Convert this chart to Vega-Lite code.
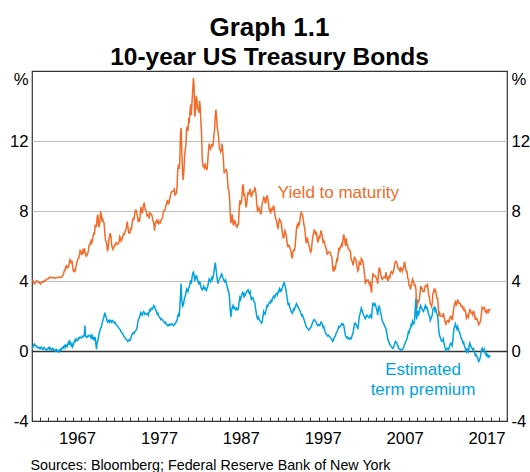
{
"$schema": "https://vega.github.io/schema/vega-lite/v6.json",
"width": 475, "height": 350,
"autosize": {"type": "none"},
"padding": {"left": 32, "top": 71, "right": 23, "bottom": 51},
"background": "white",
"title": {"text": "Graph 1.1", "subtitle": "10-year US Treasury Bonds", "anchor": "middle", "frame": "group", "font": "Liberation Sans", "fontSize": 26, "fontWeight": "bold", "color": "#000", "subtitleFont": "Liberation Sans", "subtitleFontSize": 24.5, "subtitleFontWeight": "bold", "subtitleColor": "#000", "subtitlePadding": 5, "offset": 1.5},
"config": {"view": {"stroke": "#333", "strokeWidth": 1.2}, "axis": {"labelFont": "Liberation Sans", "labelFontSize": 16.7, "labelColor": "#000", "titleFont": "Liberation Sans"}, "text": {"font": "Liberation Sans"}},
"datasets": {"r": [
{"t":1962.04,"y":4.08,"p":0.10},{"t":1962.13,"y":4.04,"p":0.25},{"t":1962.21,"y":3.93,"p":0.35},{"t":1962.29,"y":3.84,"p":0.40},{"t":1962.38,"y":3.87,"p":0.30},{"t":1962.46,"y":3.91,"p":0.32},{"t":1962.54,"y":4.01,"p":0.28},{"t":1962.63,"y":3.98,"p":0.20},{"t":1962.71,"y":3.98,"p":0.22},{"t":1962.79,"y":3.93,"p":0.18},{"t":1962.88,"y":3.92,"p":0.15},{"t":1962.96,"y":3.86,"p":0.20},
{"t":1963.04,"y":3.83,"p":0.15},{"t":1963.13,"y":3.92,"p":0.22},{"t":1963.21,"y":3.93,"p":0.18},{"t":1963.29,"y":3.97,"p":0.10},{"t":1963.38,"y":3.93,"p":0.12},{"t":1963.46,"y":3.99,"p":0.20},{"t":1963.54,"y":4.02,"p":0.15},{"t":1963.63,"y":4.00,"p":0.08},{"t":1963.71,"y":4.08,"p":0.10},{"t":1963.79,"y":4.11,"p":0.05},{"t":1963.88,"y":4.12,"p":0.12},{"t":1963.96,"y":4.13,"p":0.15},
{"t":1964.04,"y":4.17,"p":0.20},{"t":1964.13,"y":4.15,"p":0.10},{"t":1964.21,"y":4.22,"p":0.18},{"t":1964.29,"y":4.23,"p":0.12},{"t":1964.38,"y":4.20,"p":0.05},{"t":1964.46,"y":4.17,"p":0.10},{"t":1964.54,"y":4.19,"p":0.15},{"t":1964.63,"y":4.19,"p":0.08},{"t":1964.71,"y":4.20,"p":0.02},{"t":1964.79,"y":4.19,"p":0.05},{"t":1964.88,"y":4.15,"p":0.00},{"t":1964.96,"y":4.18,"p":0.10},
{"t":1965.04,"y":4.19,"p":0.05},{"t":1965.13,"y":4.21,"p":-0.02},{"t":1965.21,"y":4.21,"p":0.02},{"t":1965.29,"y":4.20,"p":-0.05},{"t":1965.38,"y":4.21,"p":0.05},{"t":1965.46,"y":4.21,"p":0.10},{"t":1965.54,"y":4.20,"p":0.05},{"t":1965.63,"y":4.25,"p":0.12},{"t":1965.71,"y":4.29,"p":0.20},{"t":1965.79,"y":4.35,"p":0.15},{"t":1965.88,"y":4.45,"p":0.25},{"t":1965.96,"y":4.62,"p":0.30},
{"t":1966.04,"y":4.61,"p":0.20},{"t":1966.13,"y":4.83,"p":0.35},{"t":1966.21,"y":4.87,"p":0.30},{"t":1966.29,"y":4.75,"p":0.25},{"t":1966.38,"y":4.78,"p":0.40},{"t":1966.46,"y":4.81,"p":0.50},{"t":1966.54,"y":5.02,"p":0.35},{"t":1966.63,"y":5.22,"p":0.55},{"t":1966.71,"y":5.18,"p":0.45},{"t":1966.79,"y":5.01,"p":0.30},{"t":1966.88,"y":5.16,"p":0.40},{"t":1966.96,"y":4.84,"p":0.25},
{"t":1967.04,"y":4.58,"p":0.35},{"t":1967.13,"y":4.63,"p":0.50},{"t":1967.21,"y":4.54,"p":0.60},{"t":1967.29,"y":4.59,"p":0.55},{"t":1967.38,"y":4.85,"p":0.70},{"t":1967.46,"y":5.02,"p":0.65},{"t":1967.54,"y":5.16,"p":0.60},{"t":1967.63,"y":5.28,"p":0.65},{"t":1967.71,"y":5.30,"p":0.75},{"t":1967.79,"y":5.48,"p":0.72},{"t":1967.88,"y":5.75,"p":0.80},{"t":1967.96,"y":5.70,"p":0.78},
{"t":1968.04,"y":5.53,"p":0.75},{"t":1968.13,"y":5.56,"p":0.80},{"t":1968.21,"y":5.74,"p":0.85},{"t":1968.29,"y":5.64,"p":0.82},{"t":1968.38,"y":5.87,"p":0.90},{"t":1968.46,"y":5.72,"p":1.45},{"t":1968.54,"y":5.50,"p":0.85},{"t":1968.63,"y":5.42,"p":0.78},{"t":1968.71,"y":5.46,"p":0.82},{"t":1968.79,"y":5.58,"p":0.80},{"t":1968.88,"y":5.70,"p":0.90},{"t":1968.96,"y":6.03,"p":0.88},
{"t":1969.04,"y":6.04,"p":0.85},{"t":1969.13,"y":6.19,"p":0.80},{"t":1969.21,"y":6.30,"p":0.90},{"t":1969.29,"y":6.17,"p":0.75},{"t":1969.38,"y":6.32,"p":0.85},{"t":1969.46,"y":6.57,"p":0.70},{"t":1969.54,"y":6.72,"p":0.75},{"t":1969.63,"y":6.69,"p":0.60},{"t":1969.71,"y":7.16,"p":0.80},{"t":1969.79,"y":7.10,"p":0.45},{"t":1969.88,"y":7.14,"p":0.10},{"t":1969.96,"y":7.65,"p":0.50},
{"t":1970.04,"y":7.79,"p":0.60},{"t":1970.13,"y":7.24,"p":0.80},{"t":1970.21,"y":7.07,"p":1.00},{"t":1970.29,"y":7.39,"p":1.15},{"t":1970.38,"y":7.91,"p":1.30},{"t":1970.46,"y":7.84,"p":1.35},{"t":1970.54,"y":7.46,"p":1.55},{"t":1970.63,"y":7.53,"p":1.70},{"t":1970.71,"y":7.39,"p":1.85},{"t":1970.79,"y":7.33,"p":1.95},{"t":1970.88,"y":6.84,"p":2.20},{"t":1970.96,"y":6.39,"p":2.05},
{"t":1971.04,"y":6.24,"p":1.95},{"t":1971.13,"y":6.11,"p":1.80},{"t":1971.21,"y":5.70,"p":1.65},{"t":1971.29,"y":5.83,"p":1.70},{"t":1971.38,"y":6.39,"p":1.75},{"t":1971.46,"y":6.52,"p":1.65},{"t":1971.54,"y":6.73,"p":1.75},{"t":1971.63,"y":6.58,"p":1.70},{"t":1971.71,"y":6.14,"p":1.65},{"t":1971.79,"y":5.93,"p":1.75},{"t":1971.88,"y":5.81,"p":1.70},{"t":1971.96,"y":5.93,"p":1.65},
{"t":1972.04,"y":5.95,"p":1.60},{"t":1972.13,"y":6.08,"p":1.65},{"t":1972.21,"y":6.07,"p":1.55},{"t":1972.29,"y":6.19,"p":1.50},{"t":1972.38,"y":6.13,"p":1.45},{"t":1972.46,"y":6.11,"p":1.40},{"t":1972.54,"y":6.11,"p":1.35},{"t":1972.63,"y":6.21,"p":1.30},{"t":1972.71,"y":6.55,"p":1.25},{"t":1972.79,"y":6.48,"p":1.20},{"t":1972.88,"y":6.28,"p":1.10},{"t":1972.96,"y":6.36,"p":1.05},
{"t":1973.04,"y":6.46,"p":1.00},{"t":1973.13,"y":6.64,"p":0.95},{"t":1973.21,"y":6.71,"p":0.85},{"t":1973.29,"y":6.67,"p":0.80},{"t":1973.38,"y":6.85,"p":0.75},{"t":1973.46,"y":6.90,"p":0.70},{"t":1973.54,"y":7.13,"p":0.65},{"t":1973.63,"y":7.40,"p":0.60},{"t":1973.71,"y":7.09,"p":0.55},{"t":1973.79,"y":6.79,"p":0.60},{"t":1973.88,"y":6.73,"p":0.65},{"t":1973.96,"y":6.74,"p":0.60},
{"t":1974.04,"y":6.99,"p":0.70},{"t":1974.13,"y":6.96,"p":0.85},{"t":1974.21,"y":7.21,"p":0.95},{"t":1974.29,"y":7.51,"p":1.00},{"t":1974.38,"y":7.58,"p":1.05},{"t":1974.46,"y":7.54,"p":1.00},{"t":1974.54,"y":7.81,"p":1.10},{"t":1974.63,"y":8.04,"p":1.15},{"t":1974.71,"y":8.04,"p":1.20},{"t":1974.79,"y":7.90,"p":1.25},{"t":1974.88,"y":7.68,"p":1.50},{"t":1974.96,"y":7.43,"p":1.75},
{"t":1975.04,"y":7.50,"p":1.85},{"t":1975.13,"y":7.39,"p":1.90},{"t":1975.21,"y":7.73,"p":2.10},{"t":1975.29,"y":8.23,"p":2.20},{"t":1975.38,"y":8.06,"p":2.10},{"t":1975.46,"y":7.86,"p":2.05},{"t":1975.54,"y":8.06,"p":2.15},{"t":1975.63,"y":8.40,"p":2.25},{"t":1975.71,"y":8.43,"p":2.20},{"t":1975.79,"y":8.14,"p":2.10},{"t":1975.88,"y":8.05,"p":2.15},{"t":1975.96,"y":8.00,"p":2.10},
{"t":1976.04,"y":7.74,"p":2.10},{"t":1976.13,"y":7.79,"p":2.15},{"t":1976.21,"y":7.73,"p":2.05},{"t":1976.29,"y":7.56,"p":2.20},{"t":1976.38,"y":7.90,"p":2.35},{"t":1976.46,"y":7.86,"p":2.30},{"t":1976.54,"y":7.83,"p":2.40},{"t":1976.63,"y":7.77,"p":2.45},{"t":1976.71,"y":7.59,"p":2.40},{"t":1976.79,"y":7.41,"p":2.50},{"t":1976.88,"y":7.29,"p":2.60},{"t":1976.96,"y":6.87,"p":2.55},
{"t":1977.04,"y":7.21,"p":2.40},{"t":1977.13,"y":7.39,"p":2.35},{"t":1977.21,"y":7.46,"p":2.25},{"t":1977.29,"y":7.37,"p":2.10},{"t":1977.38,"y":7.46,"p":2.15},{"t":1977.46,"y":7.28,"p":2.00},{"t":1977.54,"y":7.33,"p":1.95},{"t":1977.63,"y":7.40,"p":1.90},{"t":1977.71,"y":7.34,"p":1.80},{"t":1977.79,"y":7.52,"p":1.85},{"t":1977.88,"y":7.58,"p":1.80},{"t":1977.96,"y":7.69,"p":1.75},
{"t":1978.04,"y":7.96,"p":1.70},{"t":1978.13,"y":8.03,"p":1.65},{"t":1978.21,"y":8.04,"p":1.60},{"t":1978.29,"y":8.15,"p":1.65},{"t":1978.38,"y":8.35,"p":1.55},{"t":1978.46,"y":8.46,"p":1.50},{"t":1978.54,"y":8.64,"p":1.45},{"t":1978.63,"y":8.41,"p":1.50},{"t":1978.71,"y":8.42,"p":1.45},{"t":1978.79,"y":8.64,"p":1.50},{"t":1978.88,"y":8.81,"p":1.55},{"t":1978.96,"y":9.01,"p":1.50},
{"t":1979.04,"y":9.10,"p":1.50},{"t":1979.13,"y":9.10,"p":1.55},{"t":1979.21,"y":9.12,"p":1.50},{"t":1979.29,"y":9.18,"p":1.45},{"t":1979.38,"y":9.25,"p":1.50},{"t":1979.46,"y":8.91,"p":1.55},{"t":1979.54,"y":8.95,"p":1.60},{"t":1979.63,"y":9.03,"p":1.70},{"t":1979.71,"y":9.33,"p":1.75},{"t":1979.79,"y":10.30,"p":2.00},{"t":1979.88,"y":10.65,"p":2.10},{"t":1979.96,"y":10.39,"p":1.95},
{"t":1980.04,"y":10.80,"p":2.40},{"t":1980.13,"y":12.41,"p":3.20},{"t":1980.21,"y":12.75,"p":3.85},{"t":1980.29,"y":11.47,"p":2.90},{"t":1980.38,"y":10.18,"p":2.55},{"t":1980.46,"y":9.78,"p":2.60},{"t":1980.54,"y":10.25,"p":2.80},{"t":1980.63,"y":11.10,"p":3.05},{"t":1980.71,"y":11.51,"p":3.10},{"t":1980.79,"y":11.75,"p":3.30},{"t":1980.88,"y":12.68,"p":3.55},{"t":1980.96,"y":12.84,"p":3.50},
{"t":1981.04,"y":12.57,"p":3.40},{"t":1981.13,"y":13.19,"p":3.60},{"t":1981.21,"y":13.12,"p":3.65},{"t":1981.29,"y":13.68,"p":3.85},{"t":1981.38,"y":14.10,"p":4.05},{"t":1981.46,"y":13.47,"p":3.85},{"t":1981.54,"y":14.28,"p":4.20},{"t":1981.63,"y":14.94,"p":4.45},{"t":1981.71,"y":15.60,"p":4.50},{"t":1981.79,"y":15.15,"p":4.35},{"t":1981.88,"y":13.39,"p":4.00},{"t":1981.96,"y":13.72,"p":4.20},
{"t":1982.04,"y":14.59,"p":4.30},{"t":1982.13,"y":14.43,"p":4.25},{"t":1982.21,"y":13.86,"p":4.05},{"t":1982.29,"y":13.87,"p":3.95},{"t":1982.38,"y":13.62,"p":3.80},{"t":1982.46,"y":14.30,"p":4.00},{"t":1982.54,"y":13.95,"p":3.85},{"t":1982.63,"y":13.06,"p":3.65},{"t":1982.71,"y":12.34,"p":3.55},{"t":1982.79,"y":10.91,"p":3.50},{"t":1982.88,"y":10.55,"p":3.60},{"t":1982.96,"y":10.54,"p":3.70},
{"t":1983.04,"y":10.46,"p":3.55},{"t":1983.13,"y":10.72,"p":3.60},{"t":1983.21,"y":10.51,"p":3.50},{"t":1983.29,"y":10.40,"p":3.45},{"t":1983.38,"y":10.38,"p":3.60},{"t":1983.46,"y":10.85,"p":3.70},{"t":1983.54,"y":11.38,"p":3.90},{"t":1983.63,"y":11.85,"p":4.10},{"t":1983.71,"y":11.65,"p":4.00},{"t":1983.79,"y":11.54,"p":3.95},{"t":1983.88,"y":11.69,"p":4.10},{"t":1983.96,"y":11.83,"p":4.20},
{"t":1984.04,"y":11.67,"p":4.10},{"t":1984.13,"y":11.84,"p":4.25},{"t":1984.21,"y":12.32,"p":4.50},{"t":1984.29,"y":12.63,"p":4.80},{"t":1984.38,"y":13.41,"p":5.05},{"t":1984.46,"y":13.80,"p":4.70},{"t":1984.54,"y":13.36,"p":4.40},{"t":1984.63,"y":12.72,"p":4.05},{"t":1984.71,"y":12.52,"p":3.85},{"t":1984.79,"y":12.16,"p":4.00},{"t":1984.88,"y":11.57,"p":4.10},{"t":1984.96,"y":11.50,"p":4.20},
{"t":1985.04,"y":11.38,"p":4.25},{"t":1985.13,"y":11.51,"p":4.40},{"t":1985.21,"y":11.86,"p":4.35},{"t":1985.29,"y":11.43,"p":4.20},{"t":1985.38,"y":10.85,"p":4.10},{"t":1985.46,"y":10.16,"p":4.00},{"t":1985.54,"y":10.31,"p":3.95},{"t":1985.63,"y":10.33,"p":4.05},{"t":1985.71,"y":10.37,"p":3.90},{"t":1985.79,"y":10.24,"p":3.75},{"t":1985.88,"y":9.78,"p":3.60},{"t":1985.96,"y":9.26,"p":3.40},
{"t":1986.04,"y":9.19,"p":3.35},{"t":1986.13,"y":8.70,"p":2.95},{"t":1986.21,"y":7.78,"p":2.30},{"t":1986.29,"y":7.30,"p":1.95},{"t":1986.38,"y":7.71,"p":2.35},{"t":1986.46,"y":7.80,"p":2.50},{"t":1986.54,"y":7.30,"p":2.60},{"t":1986.63,"y":7.17,"p":2.45},{"t":1986.71,"y":7.45,"p":2.50},{"t":1986.79,"y":7.43,"p":2.40},{"t":1986.88,"y":7.25,"p":2.35},{"t":1986.96,"y":7.11,"p":2.45},
{"t":1987.04,"y":7.08,"p":2.40},{"t":1987.13,"y":7.25,"p":2.35},{"t":1987.21,"y":7.25,"p":2.45},{"t":1987.29,"y":8.02,"p":2.80},{"t":1987.38,"y":8.61,"p":3.05},{"t":1987.46,"y":8.40,"p":2.95},{"t":1987.54,"y":8.45,"p":3.10},{"t":1987.63,"y":8.76,"p":3.25},{"t":1987.71,"y":9.42,"p":3.35},{"t":1987.79,"y":9.52,"p":3.30},{"t":1987.88,"y":8.86,"p":3.05},{"t":1987.96,"y":8.99,"p":3.25},
{"t":1988.04,"y":8.67,"p":3.20},{"t":1988.13,"y":8.21,"p":3.30},{"t":1988.21,"y":8.37,"p":3.40},{"t":1988.29,"y":8.72,"p":3.45},{"t":1988.38,"y":9.09,"p":3.50},{"t":1988.46,"y":8.92,"p":3.35},{"t":1988.54,"y":9.06,"p":3.30},{"t":1988.63,"y":9.26,"p":3.40},{"t":1988.71,"y":8.98,"p":3.10},{"t":1988.79,"y":8.80,"p":2.95},{"t":1988.88,"y":8.96,"p":3.00},{"t":1988.96,"y":9.11,"p":3.05},
{"t":1989.04,"y":9.09,"p":2.90},{"t":1989.13,"y":9.17,"p":2.80},{"t":1989.21,"y":9.36,"p":2.75},{"t":1989.29,"y":9.18,"p":2.45},{"t":1989.38,"y":8.86,"p":2.20},{"t":1989.46,"y":8.28,"p":1.95},{"t":1989.54,"y":8.02,"p":1.85},{"t":1989.63,"y":8.11,"p":1.95},{"t":1989.71,"y":8.19,"p":1.85},{"t":1989.79,"y":8.01,"p":1.75},{"t":1989.88,"y":7.87,"p":1.70},{"t":1989.96,"y":7.84,"p":1.65},
{"t":1990.04,"y":8.21,"p":1.60},{"t":1990.13,"y":8.47,"p":1.75},{"t":1990.21,"y":8.59,"p":2.00},{"t":1990.29,"y":8.79,"p":2.25},{"t":1990.38,"y":8.76,"p":2.15},{"t":1990.46,"y":8.48,"p":2.10},{"t":1990.54,"y":8.47,"p":2.25},{"t":1990.63,"y":8.75,"p":2.45},{"t":1990.71,"y":8.89,"p":2.60},{"t":1990.79,"y":8.72,"p":2.55},{"t":1990.88,"y":8.39,"p":2.70},{"t":1990.96,"y":8.08,"p":2.75},
{"t":1991.04,"y":8.09,"p":2.80},{"t":1991.13,"y":7.85,"p":2.75},{"t":1991.21,"y":8.11,"p":2.90},{"t":1991.29,"y":8.04,"p":2.85},{"t":1991.38,"y":8.07,"p":3.00},{"t":1991.46,"y":8.28,"p":3.10},{"t":1991.54,"y":8.27,"p":3.15},{"t":1991.63,"y":7.90,"p":3.05},{"t":1991.71,"y":7.65,"p":3.20},{"t":1991.79,"y":7.53,"p":3.25},{"t":1991.88,"y":7.42,"p":3.30},{"t":1991.96,"y":7.09,"p":3.20},
{"t":1992.04,"y":7.03,"p":3.35},{"t":1992.13,"y":7.34,"p":3.45},{"t":1992.21,"y":7.54,"p":3.55},{"t":1992.29,"y":7.48,"p":3.40},{"t":1992.38,"y":7.39,"p":3.50},{"t":1992.46,"y":7.26,"p":3.45},{"t":1992.54,"y":6.84,"p":3.60},{"t":1992.63,"y":6.59,"p":3.70},{"t":1992.71,"y":6.42,"p":3.85},{"t":1992.79,"y":6.59,"p":3.90},{"t":1992.88,"y":6.87,"p":3.75},{"t":1992.96,"y":6.77,"p":3.60},
{"t":1993.04,"y":6.60,"p":3.40},{"t":1993.13,"y":6.26,"p":3.10},{"t":1993.21,"y":5.98,"p":2.85},{"t":1993.29,"y":5.97,"p":2.60},{"t":1993.38,"y":6.04,"p":2.75},{"t":1993.46,"y":5.96,"p":2.55},{"t":1993.54,"y":5.81,"p":2.40},{"t":1993.63,"y":5.68,"p":2.30},{"t":1993.71,"y":5.36,"p":2.20},{"t":1993.79,"y":5.33,"p":2.15},{"t":1993.88,"y":5.72,"p":2.30},{"t":1993.96,"y":5.77,"p":2.40},
{"t":1994.04,"y":5.75,"p":2.35},{"t":1994.13,"y":5.97,"p":2.50},{"t":1994.21,"y":6.48,"p":2.60},{"t":1994.29,"y":6.97,"p":2.70},{"t":1994.38,"y":7.18,"p":2.60},{"t":1994.46,"y":7.10,"p":2.55},{"t":1994.54,"y":7.30,"p":2.45},{"t":1994.63,"y":7.24,"p":2.40},{"t":1994.71,"y":7.46,"p":2.30},{"t":1994.79,"y":7.74,"p":2.20},{"t":1994.88,"y":7.96,"p":2.10},{"t":1994.96,"y":7.81,"p":2.00},
{"t":1995.04,"y":7.78,"p":2.05},{"t":1995.13,"y":7.47,"p":1.90},{"t":1995.21,"y":7.20,"p":1.80},{"t":1995.29,"y":7.06,"p":1.70},{"t":1995.38,"y":6.63,"p":1.55},{"t":1995.46,"y":6.17,"p":1.40},{"t":1995.54,"y":6.28,"p":1.35},{"t":1995.63,"y":6.49,"p":1.30},{"t":1995.71,"y":6.20,"p":1.25},{"t":1995.79,"y":6.04,"p":1.20},{"t":1995.88,"y":5.93,"p":1.25},{"t":1995.96,"y":5.71,"p":1.30},
{"t":1996.04,"y":5.65,"p":1.35},{"t":1996.13,"y":5.81,"p":1.45},{"t":1996.21,"y":6.27,"p":1.55},{"t":1996.29,"y":6.51,"p":1.65},{"t":1996.38,"y":6.74,"p":1.75},{"t":1996.46,"y":6.91,"p":1.80},{"t":1996.54,"y":6.87,"p":1.75},{"t":1996.63,"y":6.64,"p":1.70},{"t":1996.71,"y":6.83,"p":1.60},{"t":1996.79,"y":6.53,"p":1.55},{"t":1996.88,"y":6.20,"p":1.45},{"t":1996.96,"y":6.30,"p":1.50},
{"t":1997.04,"y":6.58,"p":1.50},{"t":1997.13,"y":6.42,"p":1.45},{"t":1997.21,"y":6.69,"p":1.55},{"t":1997.29,"y":6.89,"p":1.65},{"t":1997.38,"y":6.71,"p":1.60},{"t":1997.46,"y":6.49,"p":1.50},{"t":1997.54,"y":6.22,"p":1.35},{"t":1997.63,"y":6.30,"p":1.40},{"t":1997.71,"y":6.21,"p":1.25},{"t":1997.79,"y":6.03,"p":1.10},{"t":1997.88,"y":5.88,"p":1.00},{"t":1997.96,"y":5.81,"p":0.95},
{"t":1998.04,"y":5.54,"p":0.90},{"t":1998.13,"y":5.57,"p":0.85},{"t":1998.21,"y":5.65,"p":0.90},{"t":1998.29,"y":5.64,"p":0.85},{"t":1998.38,"y":5.65,"p":0.80},{"t":1998.46,"y":5.50,"p":0.75},{"t":1998.54,"y":5.46,"p":0.70},{"t":1998.63,"y":5.34,"p":0.65},{"t":1998.71,"y":4.81,"p":0.55},{"t":1998.79,"y":4.53,"p":0.60},{"t":1998.88,"y":4.83,"p":0.75},{"t":1998.96,"y":4.65,"p":0.80},
{"t":1999.04,"y":4.72,"p":0.85},{"t":1999.13,"y":5.00,"p":1.00},{"t":1999.21,"y":5.23,"p":1.10},{"t":1999.29,"y":5.18,"p":1.15},{"t":1999.38,"y":5.54,"p":1.25},{"t":1999.46,"y":5.90,"p":1.40},{"t":1999.54,"y":5.79,"p":1.35},{"t":1999.63,"y":5.94,"p":1.40},{"t":1999.71,"y":5.92,"p":1.45},{"t":1999.79,"y":6.11,"p":1.55},{"t":1999.88,"y":6.03,"p":1.50},{"t":1999.96,"y":6.28,"p":1.55},
{"t":2000.04,"y":6.66,"p":1.50},{"t":2000.13,"y":6.52,"p":1.30},{"t":2000.21,"y":6.26,"p":1.05},{"t":2000.29,"y":5.99,"p":0.85},{"t":2000.38,"y":6.44,"p":0.80},{"t":2000.46,"y":6.10,"p":0.75},{"t":2000.54,"y":6.05,"p":0.80},{"t":2000.63,"y":5.83,"p":0.70},{"t":2000.71,"y":5.80,"p":0.72},{"t":2000.79,"y":5.74,"p":0.68},{"t":2000.88,"y":5.72,"p":0.75},{"t":2000.96,"y":5.24,"p":0.70},
{"t":2001.04,"y":5.16,"p":0.80},{"t":2001.13,"y":5.10,"p":0.95},{"t":2001.21,"y":4.89,"p":1.05},{"t":2001.29,"y":5.14,"p":1.30},{"t":2001.38,"y":5.39,"p":1.55},{"t":2001.46,"y":5.28,"p":1.60},{"t":2001.54,"y":5.24,"p":1.55},{"t":2001.63,"y":4.97,"p":1.45},{"t":2001.71,"y":4.73,"p":1.35},{"t":2001.79,"y":4.57,"p":1.30},{"t":2001.88,"y":4.65,"p":1.60},{"t":2001.96,"y":5.09,"p":1.95},
{"t":2002.04,"y":5.04,"p":2.10},{"t":2002.13,"y":4.91,"p":2.25},{"t":2002.21,"y":5.28,"p":2.45},{"t":2002.29,"y":5.21,"p":2.35},{"t":2002.38,"y":5.16,"p":2.20},{"t":2002.46,"y":4.93,"p":2.10},{"t":2002.54,"y":4.65,"p":2.00},{"t":2002.63,"y":4.26,"p":1.90},{"t":2002.71,"y":3.87,"p":1.85},{"t":2002.79,"y":3.94,"p":1.95},{"t":2002.88,"y":4.05,"p":2.05},{"t":2002.96,"y":4.03,"p":2.00},
{"t":2003.04,"y":4.05,"p":1.95},{"t":2003.13,"y":3.90,"p":1.90},{"t":2003.21,"y":3.81,"p":1.95},{"t":2003.29,"y":3.96,"p":2.05},{"t":2003.38,"y":3.57,"p":1.95},{"t":2003.46,"y":3.33,"p":1.90},{"t":2003.54,"y":3.98,"p":2.35},{"t":2003.63,"y":4.45,"p":2.75},{"t":2003.71,"y":4.27,"p":2.65},{"t":2003.79,"y":4.29,"p":2.60},{"t":2003.88,"y":4.30,"p":2.70},{"t":2003.96,"y":4.27,"p":2.60},
{"t":2004.04,"y":4.15,"p":2.45},{"t":2004.13,"y":4.08,"p":2.30},{"t":2004.21,"y":3.83,"p":2.05},{"t":2004.29,"y":4.35,"p":2.40},{"t":2004.38,"y":4.72,"p":2.55},{"t":2004.46,"y":4.73,"p":2.45},{"t":2004.54,"y":4.50,"p":2.25},{"t":2004.63,"y":4.28,"p":2.05},{"t":2004.71,"y":4.13,"p":1.85},{"t":2004.79,"y":4.10,"p":1.70},{"t":2004.88,"y":4.19,"p":1.60},{"t":2004.96,"y":4.23,"p":1.55},
{"t":2005.04,"y":4.22,"p":1.45},{"t":2005.13,"y":4.17,"p":1.35},{"t":2005.21,"y":4.50,"p":1.30},{"t":2005.29,"y":4.34,"p":1.10},{"t":2005.38,"y":4.14,"p":0.85},{"t":2005.46,"y":4.00,"p":0.65},{"t":2005.54,"y":4.18,"p":0.55},{"t":2005.63,"y":4.26,"p":0.45},{"t":2005.71,"y":4.20,"p":0.35},{"t":2005.79,"y":4.46,"p":0.30},{"t":2005.88,"y":4.54,"p":0.25},{"t":2005.96,"y":4.47,"p":0.20},
{"t":2006.04,"y":4.42,"p":0.15},{"t":2006.13,"y":4.57,"p":0.20},{"t":2006.21,"y":4.72,"p":0.30},{"t":2006.29,"y":4.99,"p":0.45},{"t":2006.38,"y":5.11,"p":0.55},{"t":2006.46,"y":5.11,"p":0.50},{"t":2006.54,"y":5.09,"p":0.45},{"t":2006.63,"y":4.88,"p":0.35},{"t":2006.71,"y":4.72,"p":0.25},{"t":2006.79,"y":4.73,"p":0.15},{"t":2006.88,"y":4.60,"p":0.10},{"t":2006.96,"y":4.56,"p":0.08},
{"t":2007.04,"y":4.76,"p":0.10},{"t":2007.13,"y":4.72,"p":0.05},{"t":2007.21,"y":4.56,"p":0.08},{"t":2007.29,"y":4.69,"p":0.12},{"t":2007.38,"y":4.75,"p":0.20},{"t":2007.46,"y":5.10,"p":0.35},{"t":2007.54,"y":5.00,"p":0.40},{"t":2007.63,"y":4.67,"p":0.55},{"t":2007.71,"y":4.52,"p":0.60},{"t":2007.79,"y":4.53,"p":0.70},{"t":2007.88,"y":4.15,"p":0.90},{"t":2007.96,"y":4.10,"p":1.10},
{"t":2008.04,"y":3.74,"p":1.05},{"t":2008.13,"y":3.74,"p":1.25},{"t":2008.21,"y":3.51,"p":1.30},{"t":2008.29,"y":3.68,"p":1.50},{"t":2008.38,"y":3.88,"p":1.45},{"t":2008.46,"y":4.10,"p":1.70},{"t":2008.54,"y":4.01,"p":1.60},{"t":2008.63,"y":3.89,"p":1.55},{"t":2008.71,"y":3.69,"p":1.75},{"t":2008.79,"y":3.81,"p":2.40},{"t":2008.88,"y":3.53,"p":3.00},{"t":2008.96,"y":2.42,"p":1.80},
{"t":2009.04,"y":2.52,"p":2.10},{"t":2009.13,"y":2.87,"p":2.30},{"t":2009.21,"y":2.82,"p":2.10},{"t":2009.29,"y":2.93,"p":2.20},{"t":2009.38,"y":3.29,"p":2.50},{"t":2009.46,"y":3.72,"p":2.60},{"t":2009.54,"y":3.56,"p":2.45},{"t":2009.63,"y":3.59,"p":2.40},{"t":2009.71,"y":3.40,"p":2.30},{"t":2009.79,"y":3.39,"p":2.25},{"t":2009.88,"y":3.40,"p":2.35},{"t":2009.96,"y":3.59,"p":2.50},
{"t":2010.04,"y":3.73,"p":2.60},{"t":2010.13,"y":3.69,"p":2.45},{"t":2010.21,"y":3.73,"p":2.50},{"t":2010.29,"y":3.85,"p":2.40},{"t":2010.38,"y":3.42,"p":2.20},{"t":2010.46,"y":3.20,"p":2.05},{"t":2010.54,"y":3.01,"p":2.00},{"t":2010.63,"y":2.70,"p":1.75},{"t":2010.71,"y":2.65,"p":1.85},{"t":2010.79,"y":2.54,"p":1.95},{"t":2010.88,"y":2.76,"p":2.05},{"t":2010.96,"y":3.29,"p":2.40},
{"t":2011.04,"y":3.39,"p":2.45},{"t":2011.13,"y":3.58,"p":2.50},{"t":2011.21,"y":3.41,"p":2.30},{"t":2011.29,"y":3.46,"p":2.40},{"t":2011.38,"y":3.17,"p":2.20},{"t":2011.46,"y":3.00,"p":2.10},{"t":2011.54,"y":3.00,"p":2.00},{"t":2011.63,"y":2.30,"p":1.40},{"t":2011.71,"y":1.98,"p":1.00},{"t":2011.79,"y":2.15,"p":0.85},{"t":2011.88,"y":2.01,"p":0.75},{"t":2011.96,"y":1.98,"p":0.60},
{"t":2012.04,"y":1.97,"p":0.55},{"t":2012.13,"y":1.97,"p":0.60},{"t":2012.21,"y":2.17,"p":0.70},{"t":2012.29,"y":2.05,"p":0.50},{"t":2012.38,"y":1.80,"p":0.30},{"t":2012.46,"y":1.62,"p":0.15},{"t":2012.54,"y":1.53,"p":0.02},{"t":2012.63,"y":1.68,"p":0.10},{"t":2012.71,"y":1.72,"p":0.15},{"t":2012.79,"y":1.75,"p":0.10},{"t":2012.88,"y":1.65,"p":0.08},{"t":2012.96,"y":1.72,"p":0.25},
{"t":2013.04,"y":1.91,"p":0.35},{"t":2013.13,"y":1.98,"p":0.45},{"t":2013.21,"y":1.96,"p":0.40},{"t":2013.29,"y":1.76,"p":0.30},{"t":2013.38,"y":1.93,"p":0.55},{"t":2013.46,"y":2.30,"p":1.00},{"t":2013.54,"y":2.58,"p":1.30},{"t":2013.63,"y":2.74,"p":1.45},{"t":2013.71,"y":2.81,"p":1.55},{"t":2013.79,"y":2.62,"p":1.35},{"t":2013.88,"y":2.72,"p":1.25},{"t":2013.96,"y":2.90,"p":1.40},
{"t":2014.04,"y":2.86,"p":1.30},{"t":2014.13,"y":2.71,"p":1.10},{"t":2014.21,"y":2.72,"p":1.05},{"t":2014.29,"y":2.71,"p":0.95},{"t":2014.38,"y":2.56,"p":0.75},{"t":2014.46,"y":2.60,"p":0.70},{"t":2014.54,"y":2.54,"p":0.60},{"t":2014.63,"y":2.42,"p":0.45},{"t":2014.71,"y":2.53,"p":0.50},{"t":2014.79,"y":2.30,"p":0.30},{"t":2014.88,"y":2.33,"p":0.20},{"t":2014.96,"y":2.21,"p":0.05},
{"t":2015.04,"y":1.88,"p":-0.05},{"t":2015.13,"y":1.98,"p":0.10},{"t":2015.21,"y":2.04,"p":0.00},{"t":2015.29,"y":1.94,"p":-0.05},{"t":2015.38,"y":2.20,"p":0.30},{"t":2015.46,"y":2.36,"p":0.45},{"t":2015.54,"y":2.32,"p":0.35},{"t":2015.63,"y":2.17,"p":0.20},{"t":2015.71,"y":2.17,"p":0.15},{"t":2015.79,"y":2.07,"p":0.10},{"t":2015.88,"y":2.26,"p":0.15},{"t":2015.96,"y":2.24,"p":0.05},
{"t":2016.04,"y":2.09,"p":-0.10},{"t":2016.13,"y":1.78,"p":-0.25},{"t":2016.21,"y":1.89,"p":-0.20},{"t":2016.29,"y":1.81,"p":-0.30},{"t":2016.38,"y":1.81,"p":-0.35},{"t":2016.46,"y":1.64,"p":-0.50},{"t":2016.54,"y":1.50,"p":-0.60},{"t":2016.63,"y":1.56,"p":-0.55},{"t":2016.71,"y":1.63,"p":-0.40},{"t":2016.79,"y":1.76,"p":-0.25},{"t":2016.88,"y":2.14,"p":0.05},{"t":2016.96,"y":2.49,"p":0.15},
{"t":2017.04,"y":2.43,"p":0.05},{"t":2017.13,"y":2.42,"p":0.00},{"t":2017.21,"y":2.48,"p":0.10},{"t":2017.29,"y":2.30,"p":-0.10},{"t":2017.38,"y":2.30,"p":-0.15},{"t":2017.46,"y":2.19,"p":-0.25},{"t":2017.54,"y":2.32,"p":-0.15},{"t":2017.63,"y":2.21,"p":-0.30},{"t":2017.71,"y":2.20,"p":-0.35},{"t":2017.79,"y":2.36,"p":-0.25},{"t":2017.88,"y":2.35,"p":-0.30},{"t":2017.96,"y":2.40,"p":-0.35}
]},
"resolve": {"axis": {"y": "independent"}},
"layer": [
{"data": {"name": "r"}, "mark": {"type": "line", "color": "#F26B29", "strokeWidth": 1.5},
 "encoding": {
  "x": {"field": "t", "type": "quantitative", "scale": {"domain": [1962, 2020], "nice": false, "zero": false},
   "axis": {"values": [1962,1963,1964,1965,1966,1967,1968,1969,1970,1971,1972,1973,1974,1975,1976,1977,1978,1979,1980,1981,1982,1983,1984,1985,1986,1987,1988,1989,1990,1991,1992,1993,1994,1995,1996,1997,1998,1999,2000,2001,2002,2003,2004,2005,2006,2007,2008,2009,2010,2011,2012,2013,2014,2015,2016,2017,2018,2019,2020],
    "tickCount": 200,
    "labelExpr": "datum.value % 10 == 7 ? format(datum.value, 'd') : ''", "labelOffset": 4.1, "labelOverlap": false, "labelFlush": false, "labelBound": false,
    "offset": -4, "tickSize": 4, "tickColor": "#333", "tickWidth": 1, "domain": false, "grid": false, "labelPadding": 9,
    "title": "Sources: Bloomberg; Federal Reserve Bank of New York", "titleAnchor": "start", "titleAlign": "left", "titleX": -2, "titleY": 52, "titleBaseline": "alphabetic", "titleFontSize": 14.3, "titleFontWeight": "normal", "titleColor": "#000"}},
  "y": {"field": "y", "type": "quantitative", "scale": {"domain": [-4, 16], "nice": false, "zero": false},
   "axis": {"orient": "left", "values": [-4, 0, 4, 8, 12, 16], "labelExpr": "datum.value == 16 ? '%' : datum.value < 0 ? '-' + abs(datum.value) : datum.label", "title": null, "ticks": false, "domain": false, "grid": true,
    "gridColor": {"condition": {"test": "datum.value == 4 || datum.value == 8 || datum.value == 12", "value": "#BDBDBD"}, "value": "#333"},
    "gridWidth": {"condition": {"test": "datum.value == 0", "value": 1.3}, "value": 1},
    "labelPadding": 4, "labelFlush": false,
    "labelBaseline": {"condition": {"test": "datum.value == 16", "value": "top"}, "value": "middle"}}}
 }},
{"data": {"name": "r"}, "mark": {"type": "line", "color": "#00A3E0", "strokeWidth": 1.5},
 "encoding": {
  "x": {"field": "t", "type": "quantitative"},
  "y": {"field": "p", "type": "quantitative",
   "axis": {"orient": "right", "values": [-4, 0, 4, 8, 12, 16], "labelExpr": "datum.value == 16 ? '%' : datum.value < 0 ? '-' + abs(datum.value) : datum.label", "title": null, "ticks": false, "domain": false, "grid": false,
    "labelPadding": 4, "labelFlush": false,
    "labelBaseline": {"condition": {"test": "datum.value == 16", "value": "top"}, "value": "middle"}}}
 }},
{"data": {"values": [
  {"t": 1999.4, "v": 8.74, "s": "Yield to maturity", "c": "y"},
  {"t": 2009.75, "v": -1.35, "s": "Estimated", "c": "p"},
  {"t": 2009.75, "v": -2.5, "s": "term premium", "c": "p"}]},
 "mark": {"type": "text", "align": "center", "baseline": "alphabetic", "fontSize": 17},
 "encoding": {
  "x": {"field": "t", "type": "quantitative"},
  "y": {"field": "v", "type": "quantitative", "axis": null},
  "text": {"field": "s"},
  "color": {"field": "c", "type": "nominal", "scale": {"domain": ["y", "p"], "range": ["#F26B29", "#00A3E0"]}, "legend": null}
 }}
]
}
